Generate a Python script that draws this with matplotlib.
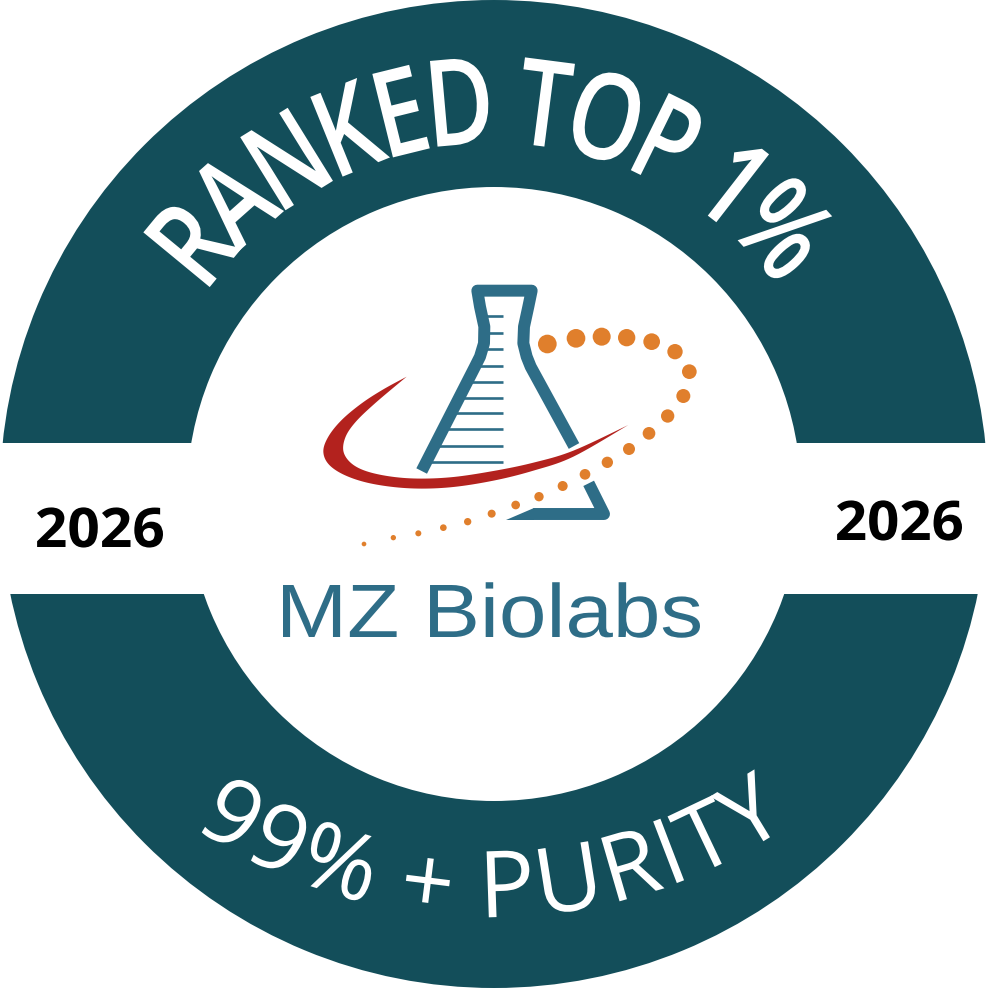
import numpy as np
import matplotlib
matplotlib.use('Agg')
import matplotlib.pyplot as plt
from matplotlib.patches import Wedge, Rectangle, PathPatch, Circle, Polygon
from matplotlib.textpath import TextPath, TextToPath
from matplotlib.font_manager import FontProperties
from matplotlib.transforms import Affine2D

# colours
TEAL = '#134e5a'
FLASK = '#2e6d87'
RED = '#b3221e'
ORANGE = '#e07f2c'

# texts
top_label = 'RANKED TOP 1%'
bottom_label = '99% + PURITY'
year_label = '2026'
brand_label = 'MZ Biolabs'

# orange dot trail of the logo (logo units)
dot_x = [742, 828, 905, 980, 1055, 1125, 1168, 1150, 1103, 1047, 987, 922,
         855, 788, 717, 647, 575, 503, 430, 355, 280, 192]
dot_y = [222, 205, 200, 203, 215, 245, 305, 378, 438, 490, 537, 577,
         613, 648, 680, 705, 731, 755, 773, 790, 803, 822]
dot_r = [28, 28, 27, 26, 25, 23, 22, 21, 20, 19, 18, 17,
         16, 15, 14, 13, 12, 11, 10, 9, 8, 7]

# graduation marks on the flask (logo units)
tick_y = [137, 190, 238, 287, 335, 383, 430, 478, 527, 575]

# flask outline (logo units)
left_x = [532, 540, 553, 552, 540, 525, 365]
left_y = [62, 110, 170, 220, 260, 290, 603]
right_x = [695, 685, 672, 670, 680, 692, 822]
right_y = [62, 110, 170, 220, 260, 290, 528]
low_x = [866, 912, 700]
low_y = [640, 732, 732]

# red swoosh edges (logo units)
sw_outer = [(320, 320), (250, 358), (185, 400), (125, 450), (85, 500), (70, 545),
            (88, 585), (140, 618), (220, 642), (330, 655), (450, 652), (580, 632),
            (700, 602), (820, 560), (985, 465)]
sw_inner = [(985, 465), (820, 542), (700, 578), (580, 603), (450, 622), (330, 625),
            (230, 612), (165, 588), (132, 550), (135, 505), (165, 458), (225, 400),
            (320, 320)]

ttp = TextToPath()


def advance(ch, fp):
    w1 = ttp.get_text_width_height_descent('H' + ch + 'H', fp, ismath=False)[0]
    w0 = ttp.get_text_width_height_descent('HH', fp, ismath=False)[0]
    return w1 - w0


def font(family, weight, cap):
    fp = FontProperties(family=family, weight=weight, size=100)
    h = TextPath((0, 0), 'H', prop=fp).get_extents().height
    return FontProperties(family=family, weight=weight, size=100 * cap / h)


def put_glyph(ax, ch, fp, P, t, u, sx, color):
    tp = TextPath((0, 0), ch, prop=fp)
    adv = advance(ch, fp)
    M = np.array([[sx * t[0], u[0], P[0]], [sx * t[1], u[1], P[1]], [0, 0, 1]])
    tr = Affine2D().translate(-adv / 2, 0) + Affine2D(M)
    ax.add_patch(PathPatch(tr.transform_path(tp), fc=color, ec='none', lw=0))


def arc_text(ax, s, fp, cx, cy, rc, a0, a1, cap, color, top=True):
    adv = np.array([advance(ch, fp) for ch in s])
    centres = np.cumsum(adv) - adv / 2
    sx = np.radians(a1 - a0) * rc / (centres[-1] - centres[0])
    ang = np.radians(a0) + (centres - centres[0]) * sx / rc
    for ch, a in zip(s, ang):
        if ch == ' ':
            continue
        if top:
            u = np.array([np.sin(a), -np.cos(a)])
            t = np.array([np.cos(a), np.sin(a)])
            P = np.array([cx, cy]) + (rc - cap / 2) * u
        else:
            d = np.array([np.sin(a), np.cos(a)])
            u = -d
            t = np.array([np.cos(a), -np.sin(a)])
            P = np.array([cx, cy]) + (rc + cap / 2) * d
        put_glyph(ax, ch, fp, P, t, u, sx, color)


def flat_text(ax, s, fp, x0, x1, baseline, color):
    tp = TextPath((0, 0), s, prop=fp)
    ext = tp.get_extents()
    sx = (x1 - x0) / ext.width
    tr = Affine2D().translate(-ext.x0, 0).scale(sx, -1).translate(x0, baseline)
    ax.add_patch(PathPatch(tr.transform_path(tp), fc=color, ec='none', lw=0))


def smooth(pts, n=10):
    # catmull-rom through the given points
    p = np.array(pts, dtype=float)
    p = np.vstack([p[0], p, p[-1]])
    out = []
    for i in range(1, len(p) - 2):
        p0, p1, p2, p3 = p[i - 1], p[i], p[i + 1], p[i + 2]
        for s in np.linspace(0, 1, n, endpoint=False):
            out.append(0.5 * ((2 * p1) + (-p0 + p2) * s
                              + (2 * p0 - 5 * p1 + 4 * p2 - p3) * s ** 2
                              + (-p0 + 3 * p1 - 3 * p2 + p3) * s ** 3))
    out.append(p[-2])
    return np.array(out)


fig = plt.figure(figsize=(9.88, 9.89), dpi=100)
ax = fig.add_axes([0, 0, 1, 1])
ax.set_xlim(0, 988)
ax.set_ylim(989, 0)
ax.axis('off')

# ring with the white band across the middle
ax.add_patch(Wedge((494, 494), 494, 0, 360, width=494 - 307, fc=TEAL, ec='none'))
ax.add_patch(Rectangle((0, 443), 988, 594 - 443, fc='white', ec='none'))

# curved labels
top_fp = font('Open Sans', 'semibold', 86)
arc_text(ax, top_label, top_fp, 494, 494, 394, -50.5, 47.6, 86, 'white', top=True)
bot_fp = font('Open Sans', 'normal', 66)
arc_text(ax, bottom_label, bot_fp, 490, 386, 498, -31.0, 31.4, 66, 'white', top=False)

# years
yr_fp = font('Open Sans', 'bold', 39)
flat_text(ax, year_label, yr_fp, 37, 163, 547, 'black')
flat_text(ax, year_label, yr_fp, 837, 962, 540, 'black')

# brand name
br_fp = font('Liberation Sans', 'normal', 52)
flat_text(ax, brand_label, br_fp, 283, 700, 637, FLASK)

# logo
logo = Affine2D().scale(1 / 3).translate(300, 270) + ax.transData
lw = 8.6
kw = dict(color=FLASK, lw=lw, solid_joinstyle='round', solid_capstyle='butt', transform=logo)
tick_left = np.interp(tick_y, left_y, left_x)
for ty, tx in zip(tick_y, tick_left):
    ax.plot([tx, 608], [ty, ty], color=FLASK, lw=1.9, solid_capstyle='butt', transform=logo)
ax.plot(left_x[::-1] + right_x, left_y[::-1] + right_y, **kw)
ax.plot(low_x, low_y, **kw)
ax.add_patch(Polygon([(702, 714), (702, 749), (618, 749)], closed=True,
                     fc=FLASK, ec='none', transform=logo))

swoosh = np.vstack([smooth(sw_outer), smooth(sw_inner)[1:]])
ax.add_patch(Polygon(swoosh, closed=True, fc=RED, ec='none', transform=logo))

for x, y, r in zip(dot_x, dot_y, dot_r):
    ax.add_patch(Circle((x, y), r, fc=ORANGE, ec='none', transform=logo))

fig.savefig('out.png', dpi=100, facecolor='white')
